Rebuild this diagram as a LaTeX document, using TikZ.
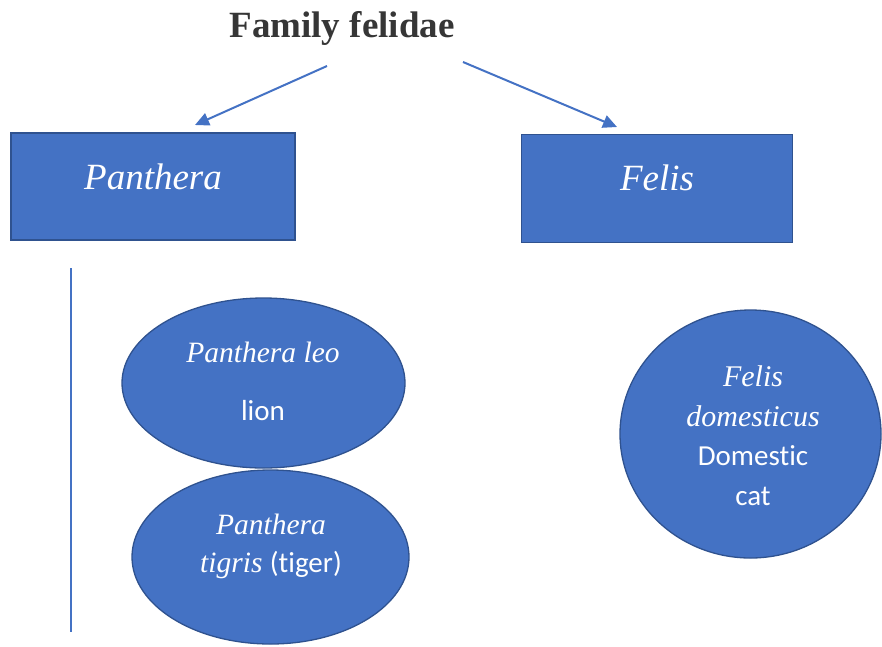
\documentclass[tikz,border=0pt]{standalone}
\usepackage{fontspec}
\setmainfont{Liberation Serif}
\newfontfamily\bodysans[Ligatures=NoCommon]{Carlito}
\usetikzlibrary{shapes.geometric,arrows.meta}
\definecolor{boxblue}{HTML}{4472C4}
\definecolor{edgeblue}{HTML}{2F528F}
\definecolor{titlegray}{HTML}{363636}
\newcommand\sansword[1]{{\bodysans\fontsize{29}{38}\selectfont #1}}
\tikzset{
  genusbox/.style={draw=edgeblue, line width=1.6pt, fill=boxblue, inner sep=0pt},
  genustext/.style={text=white, inner sep=0pt, font=\fontsize{37}{40}\selectfont\itshape},
  specblob/.style={ellipse, draw=edgeblue, line width=1.3pt, fill=boxblue, inner sep=0pt},
  blobtext/.style={text=white, align=center, font=\fontsize{30}{38}\selectfont},
  branch/.style={draw=boxblue, line width=2pt, -{Triangle[length=14pt,width=13pt]}},
}
\begin{document}
\begin{tikzpicture}[x=1pt,y=-1pt]
\useasboundingbox (0,0) rectangle (882,646);

% heading
\node[font=\fontsize{37}{40}\selectfont\bfseries, text=titlegray] (title) at (342,28) {Family felidae};

% genus boxes and their names
\node[genusbox, minimum width=284pt, minimum height=107pt] (panthera) at (153,186.5) {};
\node[genusbox, minimum width=271pt, minimum height=108pt] (felis) at (657,188.5) {};
\node[genustext] (panthera name) at ([yshift=10pt]panthera.center) {Panthera};
\node[genustext] (felis name) at ([yshift=11pt]felis.center) {Felis};

% arrows from the heading
\coordinate (ls) at (327,66);
\coordinate (le) at (195,125);
\coordinate (rs) at (463,62);
\coordinate (re) at (617,127);
\draw[branch] (ls) -- (le);
\draw[branch] (rs) -- (re);

% vertical rule under Panthera
\coordinate (vtop) at (71,268);
\coordinate (vbot) at (71,632);
\draw[boxblue, line width=1.3pt] (vtop) -- (vbot);

% species
\node[specblob, minimum width=283pt, minimum height=170pt] (leo) at (263.5,383) {};
\node[specblob, minimum width=277pt, minimum height=174pt] (tigris) at (270.5,557) {};
\node[specblob, minimum width=261pt, minimum height=248pt] (domesticus) at (750.5,434) {};

\node[blobtext, font=\fontsize{29.5}{38}\selectfont\itshape] (leoname) at (263,352) {Panthera leo};
\node[blobtext] (leocommon) at (263,411) {\sansword{lion}};

\node[blobtext, font=\fontsize{29.5}{38}\selectfont] (tigrisname) at (271,546) {\textit{Panthera}\\\textit{tigris} \sansword{(tiger)}};

\node[blobtext, font=\fontsize{30}{39.5}\selectfont] (domname) at (753,435.5)
  {\textit{Felis}\\\textit{domesticus}\\\sansword{Domestic}\\\sansword{cat}};
\end{tikzpicture}
\end{document}
